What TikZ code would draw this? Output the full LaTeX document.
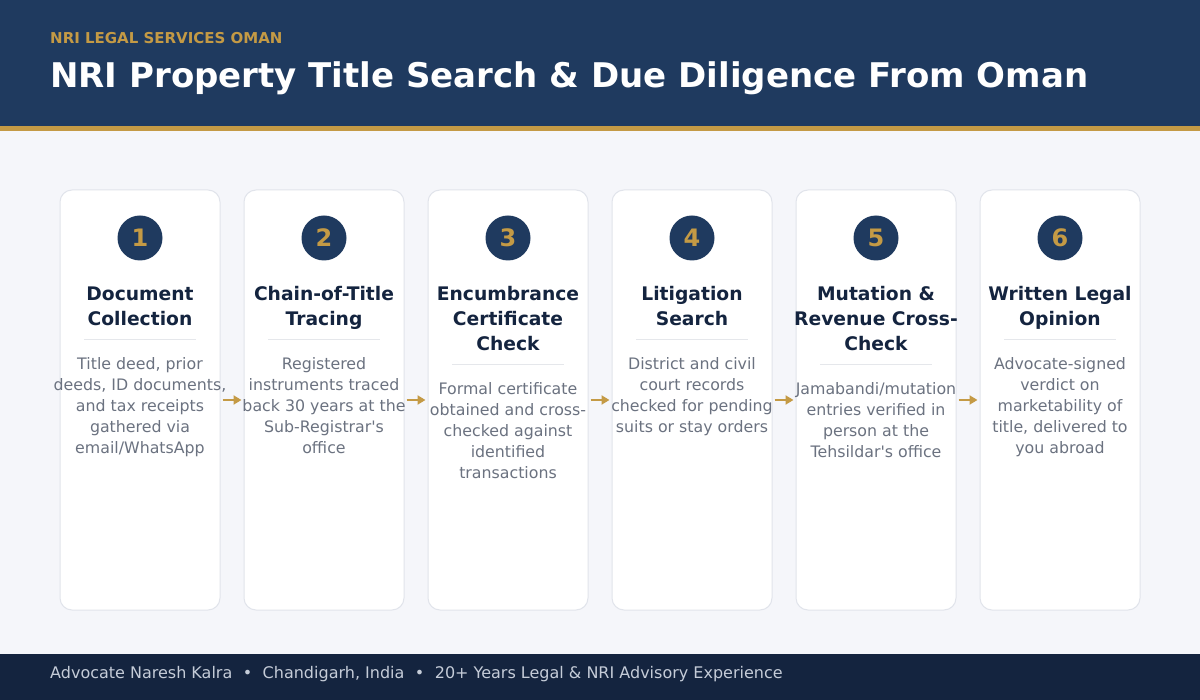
\documentclass[tikz,border=0pt]{standalone}
\usepackage{fontspec}
\setmainfont{DejaVu Sans}
\usetikzlibrary{arrows.meta}
\definecolor{navy}{HTML}{1F3A5F}
\definecolor{gold}{HTML}{C49A45}
\definecolor{bodybg}{HTML}{F5F6FA}
\definecolor{footbg}{HTML}{14243F}
\definecolor{cardline}{HTML}{E1E4EB}
\definecolor{ttlcol}{HTML}{14243F}
\definecolor{desccol}{HTML}{6B7280}
\definecolor{divcol}{HTML}{E5E7EB}
\definecolor{foottext}{HTML}{C5CCD8}
\tikzset{
  card/.style={draw=cardline, line width=1pt, fill=white, rounded corners=12pt,
    minimum width=160pt, minimum height=420pt, inner sep=0pt},
  badge/.style={circle, fill=navy, minimum size=45pt, inner sep=0pt, text=gold,
    font=\fontsize{24}{28}\selectfont\bfseries},
  ttl/.style={anchor=north, inner sep=0pt, align=center, text=ttlcol,
    font=\fontsize{18.7}{25}\selectfont\bfseries},
  desc/.style={anchor=north, inner sep=0pt, align=center, text=desccol,
    font=\fontsize{15.8}{21}\selectfont},
  divider/.style={draw=divcol, line width=1pt},
  flow/.style={draw=gold, line width=2pt, shorten <=2pt, shorten >=2pt,
    -{Triangle[length=8pt,width=9pt]}},
}
\newcommand\mkcard[5]{%
  \pgfmathsetmacro\cx{140+184*(#1-1)}%
  \pgfmathsetmacro\dy{340+25*(#4-2)}%
  \pgfmathsetmacro\ty{300.5-17.5}%
  \pgfmathsetmacro\ey{\dy+29-14.7}%
  \node[card] (c#1) at (\cx,400) {};
  \node[badge] (b#1) at (\cx,238) {#1};
  \node[ttl] (t#1) at (\cx,\ty) {\strut#3};
  \draw[divider] (\cx-56,\dy) -- (\cx+56,\dy);
  \node[desc] (d#1) at (\cx,\ey) {\strut#5};
}
\newcommand\fsep{~~\hspace{0.3pt}•\hspace{0.3pt}~~}
\begin{document}
\begin{tikzpicture}[x=1pt,y=-1pt]
\useasboundingbox (0,0) rectangle (1200,700);
\fill[bodybg] (0,0) rectangle (1200,700);
\fill[navy] (0,0) rectangle (1200,126);
\fill[gold] (0,126) rectangle (1200,131);
\fill[footbg] (0,654) rectangle (1200,700);
\node[anchor=base west, inner sep=0pt, text=gold, font=\fontsize{15}{18}\selectfont\bfseries] (kicker) at (50,44) {NRI LEGAL SERVICES OMAN};
\node[anchor=base west, inner sep=0pt, text=white, font=\fontsize{34}{40}\selectfont\bfseries] (title) at (50,87.5) {NRI Property Title Search \& Due Diligence From Oman};
\mkcard{1}{}{Document\\Collection}{2}{Title deed, prior\\deeds, ID documents,\\and tax receipts\\gathered via\\email/WhatsApp}
\mkcard{2}{}{Chain-of-Title\\Tracing}{2}{Registered\\instruments traced\\back 30 years at the\\Sub-Registrar\textquotesingle s\\office}
\mkcard{3}{}{Encumbrance\\Certificate\\Check}{3}{Formal certificate\\obtained and cross-\\checked against\\identified\\transactions}
\mkcard{4}{}{Litigation\\Search}{2}{District and civil\\court records\\checked for pending\\suits or stay orders}
\mkcard{5}{}{Mutation \&\\Revenue Cross-\\Check}{3}{Jamabandi/mutation\\entries verified in\\person at the\\Tehsildar\textquotesingle s office}
\mkcard{6}{}{Written Legal\\Opinion}{2}{Advocate-signed\\verdict on\\marketability of\\title, delivered to\\you abroad}
\foreach \i [evaluate=\i as \j using int(\i+1)] in {1,...,5}
  \draw[flow] (c\i.east) -- (c\j.west);
\node[anchor=base west, inner sep=0pt, text=foottext, font=\fontsize{16}{19}\selectfont] (foot) at (50,678.5) {Advocate Naresh Kalra\fsep Chandigarh, India\fsep 20+ Years Legal \& NRI Advisory Experience};
\end{tikzpicture}
\end{document}
